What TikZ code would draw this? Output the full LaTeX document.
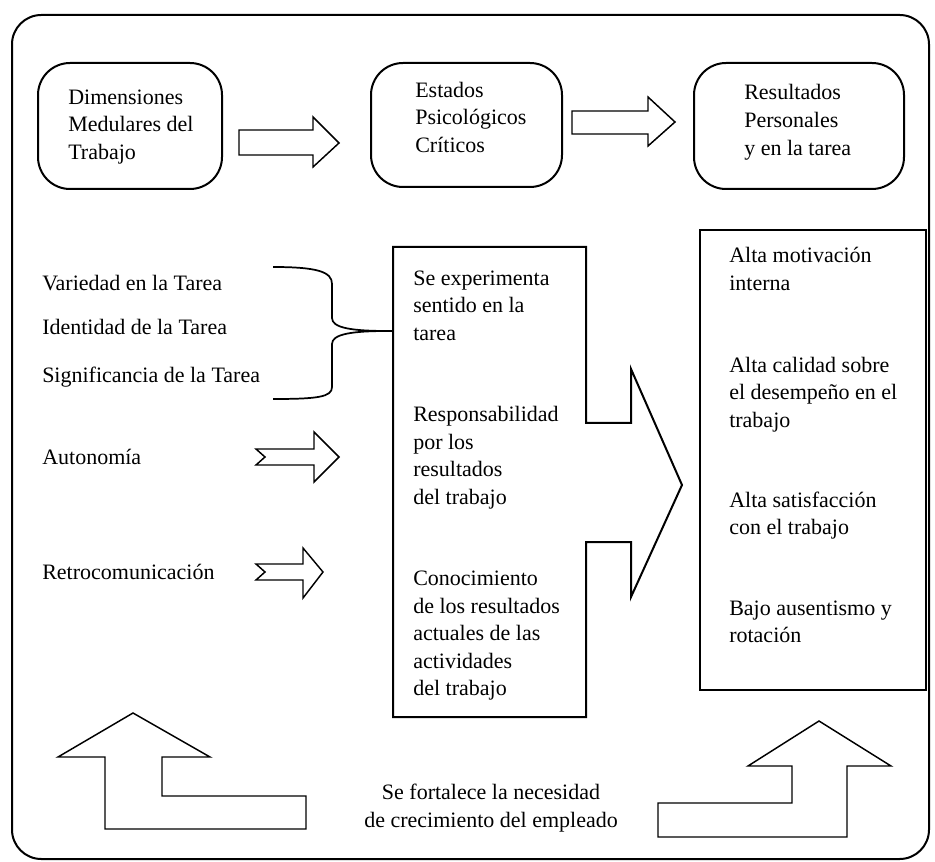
\documentclass[tikz,border=0pt]{standalone}
\usepackage{fontspec}
\setmainfont{Liberation Serif}
\begin{document}
\begin{tikzpicture}[x=0.75pt,y=-0.75pt,
  rbox/.style={draw, line width=1.5pt, rounded corners=24pt, inner sep=0pt},
  blk/.style={draw, line width=1.1pt, line join=miter},
  frame/.style={draw, line width=1.5pt, line join=miter},
  txt/.style={anchor=north west, inner sep=0pt, align=left, font=\fontsize{16.5}{20.5}\selectfont},
  ctxt/.style={anchor=north, inner sep=0pt, align=center, font=\fontsize{16.5}{21}\selectfont}]
\useasboundingbox (0,0) rectangle (935,862);
% outer frame
\draw[line width=1.5pt, rounded corners=22pt] (12,15) rectangle (929,859);

% top rounded boxes
\node[rbox, minimum width=138pt, minimum height=94.5pt] (b1) at (130,126) {};
\node[rbox, minimum width=143.25pt, minimum height=93pt] (b2) at (466.5,125) {};
\node[rbox, minimum width=157.5pt, minimum height=94.5pt] (b3) at (799,126) {};
\node[txt] (t1) at (68,85) {\strut Dimensiones\\Medulares del\\Trabajo};
\node[txt] (t2) at (415,78) {\strut Estados\\Psicológicos\\Críticos};
\node[txt, font=\fontsize{16.5}{21}\selectfont] (t3) at (744,80) {\strut Resultados\\Personales\\y en la tarea};

% top block arrows
\draw[blk] (239,130) -- (313,130) -- (313,117) -- (339,143) -- (313,167) -- (313,155) -- (239,155) -- cycle;
\draw[blk] (572,111) -- (648,111) -- (648,97) -- (675,122) -- (648,146) -- (648,134) -- (572,134) -- cycle;

% left column texts
\node[txt] (v1) at (42,271) {\strut Variedad en la Tarea};
\node[txt] (v2) at (42,315) {\strut Identidad de la Tarea};
\node[txt] (v3) at (42,363) {\strut Significancia de la Tarea};
\node[txt] (v4) at (42,445) {\strut Autonomía};
\node[txt] (v5) at (42,560) {\strut Retrocomunicación};

% middle box with arrow
\coordinate (mtip) at (682,485);
\coordinate (mwest) at (393,331);
\draw[frame] (393,247) -- (586,247) -- (586,423) -- (631,423) -- (631,369) -- (mtip)
  -- (631,597) -- (631,542) -- (586,542) -- (586,717) -- (393,717) -- cycle;
\node[txt] (m1) at (413,266) {\strut Se experimenta\\sentido en la\\tarea};
\node[txt, font=\fontsize{16.5}{20.7}\selectfont] (m2) at (413,402) {\strut Responsabilidad\\por los\\resultados\\del trabajo};
\node[txt, font=\fontsize{16.5}{20.7}\selectfont] (m3) at (413,566) {\strut Conocimiento\\de los resultados\\actuales de las\\actividades\\del trabajo};

% brace
\coordinate (btop) at (273,267);
\coordinate (bbot) at (273,399);
\coordinate (btip) at (388,331);
\draw[line width=1.3pt] (btop) .. controls (318,267) and (332,272) .. (332,284) -- (332,318)
  .. controls (332,328) and (352,331) .. (btip)
  .. controls (352,331) and (332,334) .. (332,344) -- (332,387)
  .. controls (332,397) and (318,399) .. (bbot);
\draw[line width=1.3pt] (btip) -- (mwest);

% notched arrows
\draw[blk] (256,449) -- (314,449) -- (314,432) -- (339,457) -- (314,482) -- (314,465) -- (256,465) -- (265,457) -- cycle;
\draw[blk] (256,564) -- (303,564) -- (303,548) -- (323,572) -- (303,598) -- (303,580) -- (256,580) -- (265,572) -- cycle;

% right box
\draw[frame] (700,230) rectangle (926,690);
\node[txt, font=\fontsize{16.5}{21}\selectfont] (r1) at (729,243) {\strut Alta motivación\\interna};
\node[txt] (r2) at (729,353) {\strut Alta calidad sobre\\el desempeño en el\\trabajo};
\node[txt] (r3) at (729,488) {\strut Alta satisfacción\\con el trabajo};
\node[txt] (r4) at (729,596) {\strut Bajo ausentismo y\\rotación};

% bottom arrows
\draw[blk] (133,713) -- (210,757) -- (162,757) -- (162,796) -- (306,796) -- (306,829) -- (105,829) -- (105,757) -- (58,757) -- cycle;
\draw[blk] (819,721) -- (891,766) -- (847,766) -- (847,837) -- (658,837) -- (658,803) -- (792,803) -- (792,766) -- (748,766) -- cycle;

\node[ctxt] (bt) at (491,780) {\strut Se fortalece la necesidad\\de crecimiento del empleado};
\end{tikzpicture}
\end{document}
